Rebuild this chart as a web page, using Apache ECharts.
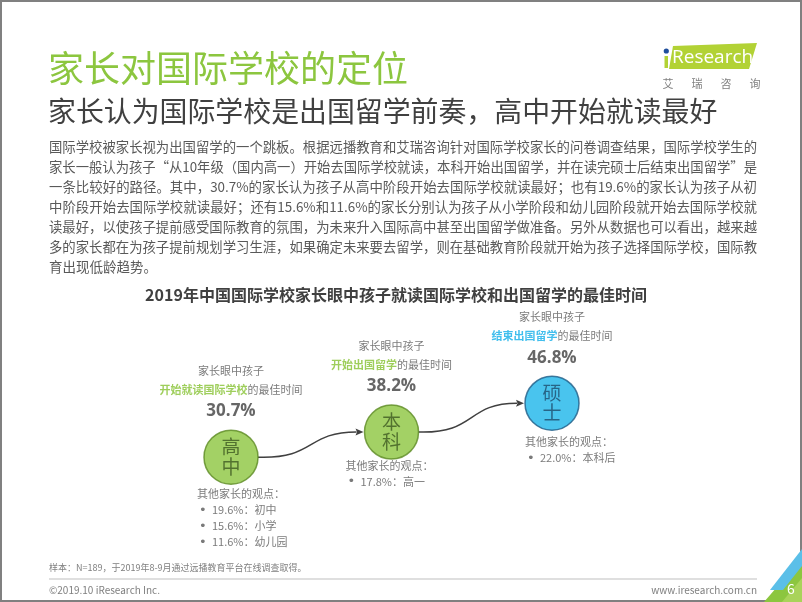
<!DOCTYPE html>
<html><head><meta charset="utf-8">
<script src="https://cdn.jsdelivr.net/npm/echarts@6/dist/echarts.min.js"></script>
<style>html,body{margin:0;padding:0;background:#fff}#c{width:802px;height:602px}</style>
</head><body><div id="c"></div>
<script>
// ---- data ----
const stages = ['高中', '本科', '硕士'];
const bestShares = [30.7, 38.2, 46.8];
const leadLine = '家长眼中孩子';
const highlightPhrases = ['开始就读国际学校', '开始出国留学', '结束出国留学'];
const phraseSuffix = '的最佳时间';
const otherViewsTitle = '其他家长的观点：';
const otherViewShares = [[19.6, 15.6, 11.6], [17.8], [22.0]];
const otherViewStages = [['初中', '小学', '幼儿园'], ['高一'], ['本科后']];
const pageTitle = '家长对国际学校的定位';
const pageSubtitle = '家长认为国际学校是出国留学前奏，高中开始就读最好';
const bodyLines = [
  '国际学校被家长视为出国留学的一个跳板。根据远播教育和艾瑞咨询针对国际学校家长的问卷调查结果，国际学校学生的',
  '家长一般认为孩子“从10年级（国内高一）开始去国际学校就读，本科开始出国留学，并在读完硕士后结束出国留学”是',
  '一条比较好的路径。其中，30.7%的家长认为孩子从高中阶段开始去国际学校就读最好；也有19.6%的家长认为孩子从初',
  '中阶段开始去国际学校就读最好；还有15.6%和11.6%的家长分别认为孩子从小学阶段和幼儿园阶段就开始去国际学校就',
  '读最好，以使孩子提前感受国际教育的氛围，为未来升入国际高中甚至出国留学做准备。另外从数据也可以看出，越来越',
  '多的家长都在为孩子提前规划学习生涯，如果确定未来要去留学，则在基础教育阶段就开始为孩子选择国际学校，国际教',
  '育出现低龄趋势。'
];
const chartTitle = '2019年中国国际学校家长眼中孩子就读国际学校和出国留学的最佳时间';
const sourceNote = '样本：N=189，于2019年8-9月通过远播教育平台在线调查取得。';
const copyright = '©2019.10 iResearch Inc.';
const website = 'www.iresearch.com.cn';
const pageNumber = '6';
const logoCn = ['艾', '瑞', '咨', '询'];

// ---- styles ----
const FONT = '"Noto Sans CJK SC", "Noto Sans", sans-serif';
const GREEN = '#8cc63f';
const BLUE = '#1cb5ea';
const fills = [GREEN, GREEN, BLUE];
const borders = ['#5b8a22', '#5b8a22', '#1f5d86'];
const innerText = ['#3f5a22', '#3f5a22', '#1f4d6e'];
const hlColors = ['#86c232', '#86c232', '#12aee8'];
const belowPos = [[-7, 56], [-19, 53], [0, 58]];

function txt(text, x, y, size, fill, extra) {
  return {
    type: 'text', silent: true,
    style: Object.assign({
      text: text, x: x, y: y, fill: fill, fontSize: size, fontFamily: FONT,
      align: 'left', verticalAlign: 'middle', textAlign: 'left', textVerticalAlign: 'middle'
    }, extra || {})
  };
}

const measureCtx = document.createElement('canvas').getContext('2d');
function measure(text, size) {
  measureCtx.font = size + 'px ' + FONT;
  return measureCtx.measureText(text).width;
}

const graphics = [];
graphics.push({ type: 'rect', silent: true, shape: { x: 1, y: 1, width: 800, height: 600 },
  style: { fill: 'none', stroke: '#808080', lineWidth: 2 } });
graphics.push(txt(pageTitle, 48, 68, 36, GREEN));
graphics.push(txt(pageSubtitle, 48, 111, 27.9, '#404040'));
const BODY_SIZE = 13.5, BODY_W = 708;
bodyLines.forEach((l, i) => {
  const el = txt(l, 0, 0, BODY_SIZE, '#595959');
  el.x = 49; el.y = 147 + i * 20;
  if (i < bodyLines.length - 1) {
    const w = measure(l, BODY_SIZE);
    if (w > 0) el.scaleX = BODY_W / w;
  }
  graphics.push(el);
});
graphics.push(txt(chartTitle, 396, 295, 16, '#404040',
  { fontWeight: 'bold', align: 'center', textAlign: 'center' }));
// footer
graphics.push(txt(sourceNote, 49, 568, 9, '#7f7f7f'));
graphics.push({ type: 'line', silent: true, shape: { x1: 49, y1: 579, x2: 757, y2: 579 },
  style: { stroke: '#bfbfbf', lineWidth: 1 } });
graphics.push(txt(copyright, 49, 590, 10, '#7f7f7f'));
graphics.push(txt(website, 757, 590, 10, '#7f7f7f', { align: 'right', textAlign: 'right' }));
// corner
graphics.push({ type: 'polygon', silent: true, shape: { points: [[764, 602], [802, 558], [802, 602]] }, style: { fill: '#8cc63f' } });
graphics.push({ type: 'polygon', silent: true, shape: { points: [[782, 602], [802, 578], [802, 602]] }, style: { fill: '#a9d35a' } });
graphics.push({ type: 'polygon', silent: true, shape: { points: [[770, 590], [802, 549], [802, 566], [783, 590]] }, style: { fill: '#5bbfe8' } });
graphics.push(txt(pageNumber, 787, 589, 14, '#ffffff'));
// logo
graphics.push({ type: 'polygon', silent: true, shape: { points: [[673, 46], [757, 43], [749, 69], [669, 69]] }, style: { fill: '#b2d235' } });
graphics.push({ type: 'rect', silent: true, shape: { x: 664.5, y: 56, width: 3.5, height: 12 }, style: { fill: '#b2d235' } });
graphics.push({ type: 'circle', silent: true, shape: { cx: 666.3, cy: 51, r: 2.6 }, style: { fill: '#1f4e9c' } });
graphics.push(txt('Research', 672, 57.5, 19, '#ffffff', { fontFamily: '"Open Sans", sans-serif' }));
logoCn.forEach((c, i) => graphics.push(txt(c, 668 + i * 29, 84, 11, '#7f7f7f', { align: 'center', textAlign: 'center' })));

// ---- series data built from arrays ----
const circleData = stages.map((s, i) => ({
  value: [s, bestShares[i]],
  itemStyle: { color: fills[i], borderColor: borders[i], borderWidth: 1.5 },
  label: { color: innerText[i] }
}));
const topData = stages.map((s, i) => ({
  value: [s, bestShares[i]],
  label: {
    formatter: '{a|' + leadLine + '}\n{h' + i + '|' + highlightPhrases[i] + '}{a|' + phraseSuffix + '}\n{p|' + bestShares[i].toFixed(1) + '%}'
  }
}));
const belowData = stages.map((s, i) => ({
  value: [s, bestShares[i]],
  label: {
    position: belowPos[i],
    formatter: ['{t|' + otherViewsTitle + '}'].concat(
      otherViewShares[i].map((v, j) => '{d|•}{v|' + v.toFixed(1) + '%：' + otherViewStages[i][j] + '}')
    ).join('\n')
  }
}));
const arrowData = stages.slice(0, -1).map((s, i) => [i, bestShares[i], i + 1, bestShares[i + 1]]);

const R = 27;
const option = {
  animation: false,
  graphic: { elements: graphics },
  grid: { left: 231, width: 321, top: 359, height: 134 },
  xAxis: { type: 'category', data: stages, boundaryGap: false, show: false },
  yAxis: { type: 'value', min: 20, max: 60, show: false },
  series: [
    {
      type: 'custom', silent: true, z: 1,
      encode: { x: [0, 2], y: [1, 3] },
      data: arrowData,
      renderItem: function (params, api) {
        const p0 = api.coord([api.value(0), api.value(1)]);
        const p1 = api.coord([api.value(2), api.value(3)]);
        const sx = p0[0] + R, sy = p0[1];
        const ex = p1[0] - R - 1, ey = p1[1];
        const dx = ex - sx;
        const tip = ex, ax = ex - 8;
        return {
          type: 'group',
          children: [
            { type: 'bezierCurve',
              shape: { x1: sx, y1: sy, cpx1: sx + dx * 0.55, cpy1: sy + 2, cpx2: sx + dx * 0.45, cpy2: ey, x2: ax + 1, y2: ey },
              style: { stroke: '#404040', lineWidth: 1.5, fill: 'none' } },
            { type: 'polygon',
              shape: { points: [[tip, ey], [ax, ey - 3.5], [ax + 1.5, ey], [ax, ey + 3.5]] },
              style: { fill: '#404040' } }
          ]
        };
      }
    },
    {
      type: 'scatter', silent: true, z: 3, symbol: 'circle', symbolSize: 2 * R,
      data: circleData,
      label: { show: true, position: 'inside', formatter: p => p.value[0].split('').join('\n'),
        fontSize: 19, lineHeight: 20, fontFamily: FONT }
    },
    {
      type: 'scatter', silent: true, z: 4, symbol: 'circle', symbolSize: 2 * R,
      itemStyle: { color: 'rgba(0,0,0,0)' },
      data: topData,
      label: { show: true, position: 'top', distance: 6, align: 'center', fontFamily: FONT,
        rich: {
          a: { fontSize: 11, color: '#595959', lineHeight: 19, fontFamily: FONT },
          h0: { fontSize: 11, color: hlColors[0], fontWeight: 'bold', lineHeight: 19, fontFamily: FONT },
          h1: { fontSize: 11, color: hlColors[1], fontWeight: 'bold', lineHeight: 19, fontFamily: FONT },
          h2: { fontSize: 11, color: hlColors[2], fontWeight: 'bold', lineHeight: 19, fontFamily: FONT },
          p: { fontSize: 17, color: '#404040', fontWeight: 'bold', lineHeight: 25, fontFamily: '"Open Sans", sans-serif' }
        } }
    },
    {
      type: 'scatter', silent: true, z: 4, symbol: 'circle', symbolSize: 2 * R,
      itemStyle: { color: 'rgba(0,0,0,0)' },
      data: belowData,
      label: { show: true, align: 'left', verticalAlign: 'top', fontFamily: FONT,
        rich: {
          t: { fontSize: 11, color: '#595959', lineHeight: 16, fontFamily: FONT },
          d: { fontSize: 13, color: '#595959', lineHeight: 16, width: 13, padding: [0, 0, 0, 2], fontFamily: '"DejaVu Sans", sans-serif' },
          v: { fontSize: 11, color: '#595959', lineHeight: 16, fontFamily: FONT }
        } }
    }
  ]
};
const chart = echarts.init(document.getElementById('c'), null, { renderer: 'canvas' });
chart.setOption(option);
</script>
</body></html>
